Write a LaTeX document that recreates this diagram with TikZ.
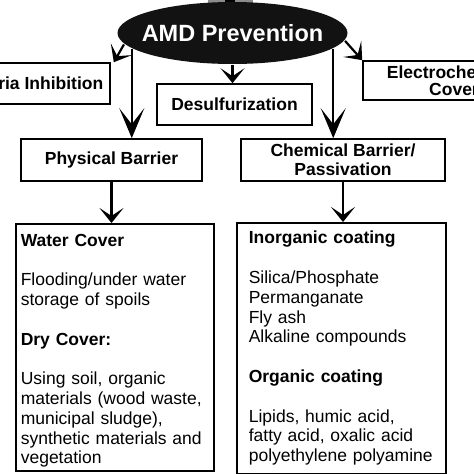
\documentclass[tikz,border=0pt]{standalone}
\usepackage{fontspec}
\setmainfont{Liberation Sans}
\usetikzlibrary{shapes.geometric,arrows.meta}

\def\boxwidth{1.6pt}

\begin{document}
\begin{tikzpicture}[x=1pt,y=-1pt,line width=2.2pt]
    \tikzstyle{box}=[draw,rectangle,line width=\boxwidth,inner sep=0pt,align=center,font=\bfseries\fontsize{17.5}{19}\selectfont]
    \tikzstyle{list box}=[box,anchor=north west,align=left,font=\fontsize{17.5}{19.8}\selectfont]
    \tikzstyle{big arrow}=[-{Stealth[length=30pt,width=25pt,inset=16pt]}]
    \tikzstyle{small arrow}=[-{Stealth[length=15pt,width=24pt,inset=8pt]}]

    \useasboundingbox (0,0) rectangle (474,474);
    \clip (0,0) rectangle (474,474);

    % Draw the top node
    \fill[black!45] (208,0) rectangle (253,9);
    \fill[black] (225,0) rectangle (235,9);
    \node[ellipse,fill=black!93,inner xsep=-9.5pt,inner ysep=0pt,minimum width=230,minimum height=62,
          text=white,font=\bfseries\fontsize{23.5}{26}\selectfont] (amd) at (232.5,33) {AMD Prevention};

    % Draw the first row
    \node[box,minimum width=166,minimum height=41] (bact) at (27,83.5) {Bacteria Inhibition};
    \node[box,minimum width=155,minimum height=41] (desul) at (234.5,104.5) {Desulfurization};
    \node[box,minimum width=182,minimum height=39,font=\bfseries\fontsize{17.5}{17}\selectfont] (elec) at (454,80.5) {Electrochemical\\Cover};

    % Draw the barrier nodes
    \node[box,minimum width=181,minimum height=42] (phys) at (111.5,160) {Physical Barrier};
    \node[box,minimum width=204,minimum height=42] (chem) at (343,160) {Chemical Barrier/\\Passivation};

    % Draw the lists
    \node[list box,inner xsep=5pt,text width=188pt,minimum width=198,minimum height=247] (wat) at (15,223)
        {\rule{0pt}{19pt}\textbf{Water Cover}\\[19.8pt]
         Flooding/under water\\storage of spoils\\[19.8pt]
         \textbf{Dry Cover:}\\[19.8pt]
         Using soil, organic\\materials (wood waste,\\municipal sludge),\\synthetic materials and\\vegetation};
    \node[list box,inner xsep=12pt,text width=185pt,minimum width=209,minimum height=251] (coat) at (236,222)
        {\textbf{Inorganic coating}\\[19.8pt]
         Silica/Phosphate\\Permanganate\\Fly ash\\Alkaline compounds\\[19.8pt]
         \textbf{Organic coating}\\[19.8pt]
         Lipids, humic acid,\\fatty acid, oxalic acid\\polyethylene polyamine};

    % Connect the top node with the first row and the barriers
    \draw[small arrow] (amd.186.5) -- ([xshift=3pt]bact.north east);
    \draw[small arrow] (amd.south) -- (amd.south |- desul.north);
    \draw[small arrow] (amd.356.7) -- (elec.north west);
    \draw[big arrow] (amd.189.5) -- (amd.189.5 |- phys.north);
    \draw[big arrow] (amd.351.1) -- (amd.351.1 |- chem.north);

    % Connect the barriers with the lists
    \draw[small arrow] (phys.south) -- (phys.south |- wat.north);
    \draw[small arrow] (chem.south) -- (chem.south |- coat.north);
\end{tikzpicture}
\end{document}
